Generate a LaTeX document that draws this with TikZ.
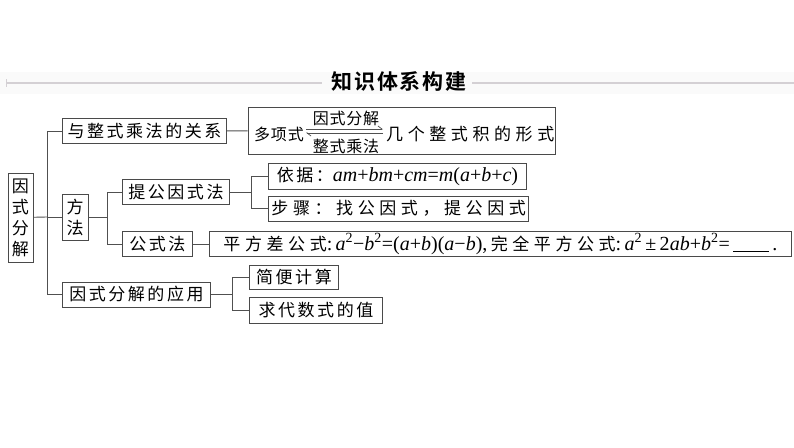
\documentclass[tikz,border=0pt]{standalone}
\usepackage{fontspec}
\setmainfont{Liberation Serif}
\newfontfamily\cjk[LetterSpace=15]{Noto Sans CJK SC}
\newfontfamily\cjkwide[LetterSpace=27]{Noto Sans CJK SC}
\newfontfamily\cjktight[LetterSpace=5]{Noto Sans CJK SC}
\newfontfamily\titlefont[LetterSpace=8]{Noto Sans CJK SC Bold}
\usetikzlibrary{positioning, arrows.meta, fit}
\definecolor{boxGray}{HTML}{4A4A4A}
\definecolor{lineGray}{HTML}{505050}
\definecolor{bandGray}{HTML}{D4D0D4}
\newcommand\fml{\rmfamily\fontsize{20}{22}\selectfont}
\newcommand\vv[1]{\textit{#1}}

\begin{document}
\begin{tikzpicture}[x=1pt, y=-1pt,
    kbox/.style={draw=boxGray, line width=0.9pt, inner xsep=3pt, inner ysep=0pt,
      minimum height=25pt, anchor=west, font=\cjk\fontsize{17}{20}\selectfont},
    vbox/.style={kbox, anchor=center, align=center, font=\cjk\fontsize{17}{21}\selectfont},
    plain/.style={inner sep=0pt, font=\cjktight\fontsize{16}{18}\selectfont},
    link/.style={draw=lineGray, line width=0.9pt},
    harp/.style={lineGray, line width=0.7pt},
    rule/.style={bandGray, line width=2pt}]
  \useasboundingbox (0,0) rectangle (794,447);
  \fill[white] (0,0) rectangle (794,447);
  % title band
  \fill[black!2] (0,72) rectangle (794,94);
  \node[font=\titlefont\fontsize{21}{24}\selectfont] (title) at (399,81) {知识体系构建};
  \coordinate (ruleL) at (6,83);
  \coordinate (ruleR) at (794,83);
  \draw[rule] (ruleL) -- (322,83);
  \draw[rule] (472,83) -- (ruleR);
  \draw[bandGray, line width=0.8pt] (6,79) -- (6,87);
  % left column
  \node[vbox, minimum width=25pt, minimum height=89pt] (root) at (20.5,217.5) {因\\式\\分\\解};
  \node[kbox, minimum width=164pt] (rel) at (62,131) {与整式乘法的关系};
  \node[vbox, minimum width=26pt, minimum height=46pt] (fangfa) at (75,217) {方\\法};
  \node[kbox, minimum width=148pt] (yingyong) at (62,294.5) {因式分解的应用};
  % methods
  \node[kbox, minimum width=107pt] (tigong) at (122,192) {提公因式法};
  \node[kbox, minimum width=70pt] (gongshi) at (122,244) {公式法};
  \node[kbox, minimum width=258pt, minimum height=26pt] (yiju) at (268,176)
    {依据：{\fml\vv{am}+\vv{bm}+\vv{cm}=\vv{m}(\vv{a}+\vv{b}+\vv{c})}};
  \node[kbox, minimum width=258pt] (buzhou) at (268,208.5) {\cjkwide 步骤：找公因式，提公因式};
  \node[kbox, minimum width=582pt, font=\cjkwide\fontsize{17}{20}\selectfont] (pingfang) at (209,244)
    {平方差公式{\fml:\,\vv{a}\textsuperscript{2}−\vv{b}\textsuperscript{2}=(\vv{a}+\vv{b})(\vv{a}−\vv{b}),\,}完全平方公式{\fml:\,\vv{a}\textsuperscript{2}\,±\,2\vv{ab}+\vv{b}\textsuperscript{2}=\,\underline{\hspace{36pt}}\,.}};
  % applications
  \node[kbox, minimum width=89pt, minimum height=24pt] (jianbian) at (249,277) {简便计算};
  \node[kbox, minimum width=133pt, minimum height=26pt] (qiuzhi) at (249,310) {求代数式的值};
  % relation box
  \node[plain, anchor=west] (dxs) at (254,134) {多项式};
  \node[plain] (fenjie) at (346,118) {因式分解};
  \node[plain] (chengfa) at (346,146) {整式乘法};
  \node[plain, anchor=west, font=\cjkwide\fontsize{17}{20}\selectfont] (jige) at (386,134) {几个整式积的形式};
  \draw[harp, -{Straight Barb[left, length=4pt, width=6pt]}] (306,129) -- (383,129);
  \draw[harp, -{Straight Barb[left, length=4pt, width=6pt]}] (383,133) -- (306,133);
  \node[draw=boxGray, line width=0.9pt, inner sep=0pt, fit={(248,107) (555,154)}] (poly) {};
  % connectors
  \coordinate (trunk) at (47,217);
  \coordinate (ffj) at (107,217);
  \coordinate (tgj) at (251,192);
  \coordinate (yyj) at (232,294.5);
  \draw[link] (root) -- (trunk);
  \foreach \n in {rel, fangfa, yingyong} \draw[link] (trunk) |- (\n.west);
  \draw[link] (fangfa) -- (ffj);
  \foreach \n in {tigong, gongshi} \draw[link] (ffj) |- (\n.west);
  \draw[link] (tigong) -- (tgj);
  \foreach \n in {yiju, buzhou} \draw[link] (tgj) |- (\n.west);
  \draw[link] (yingyong) -- (yyj);
  \foreach \n in {jianbian, qiuzhi} \draw[link] (yyj) |- (\n.west);
  \draw[link] (rel) -- (poly);
  \draw[link] (gongshi) -- (pingfang);
\end{tikzpicture}
\end{document}
